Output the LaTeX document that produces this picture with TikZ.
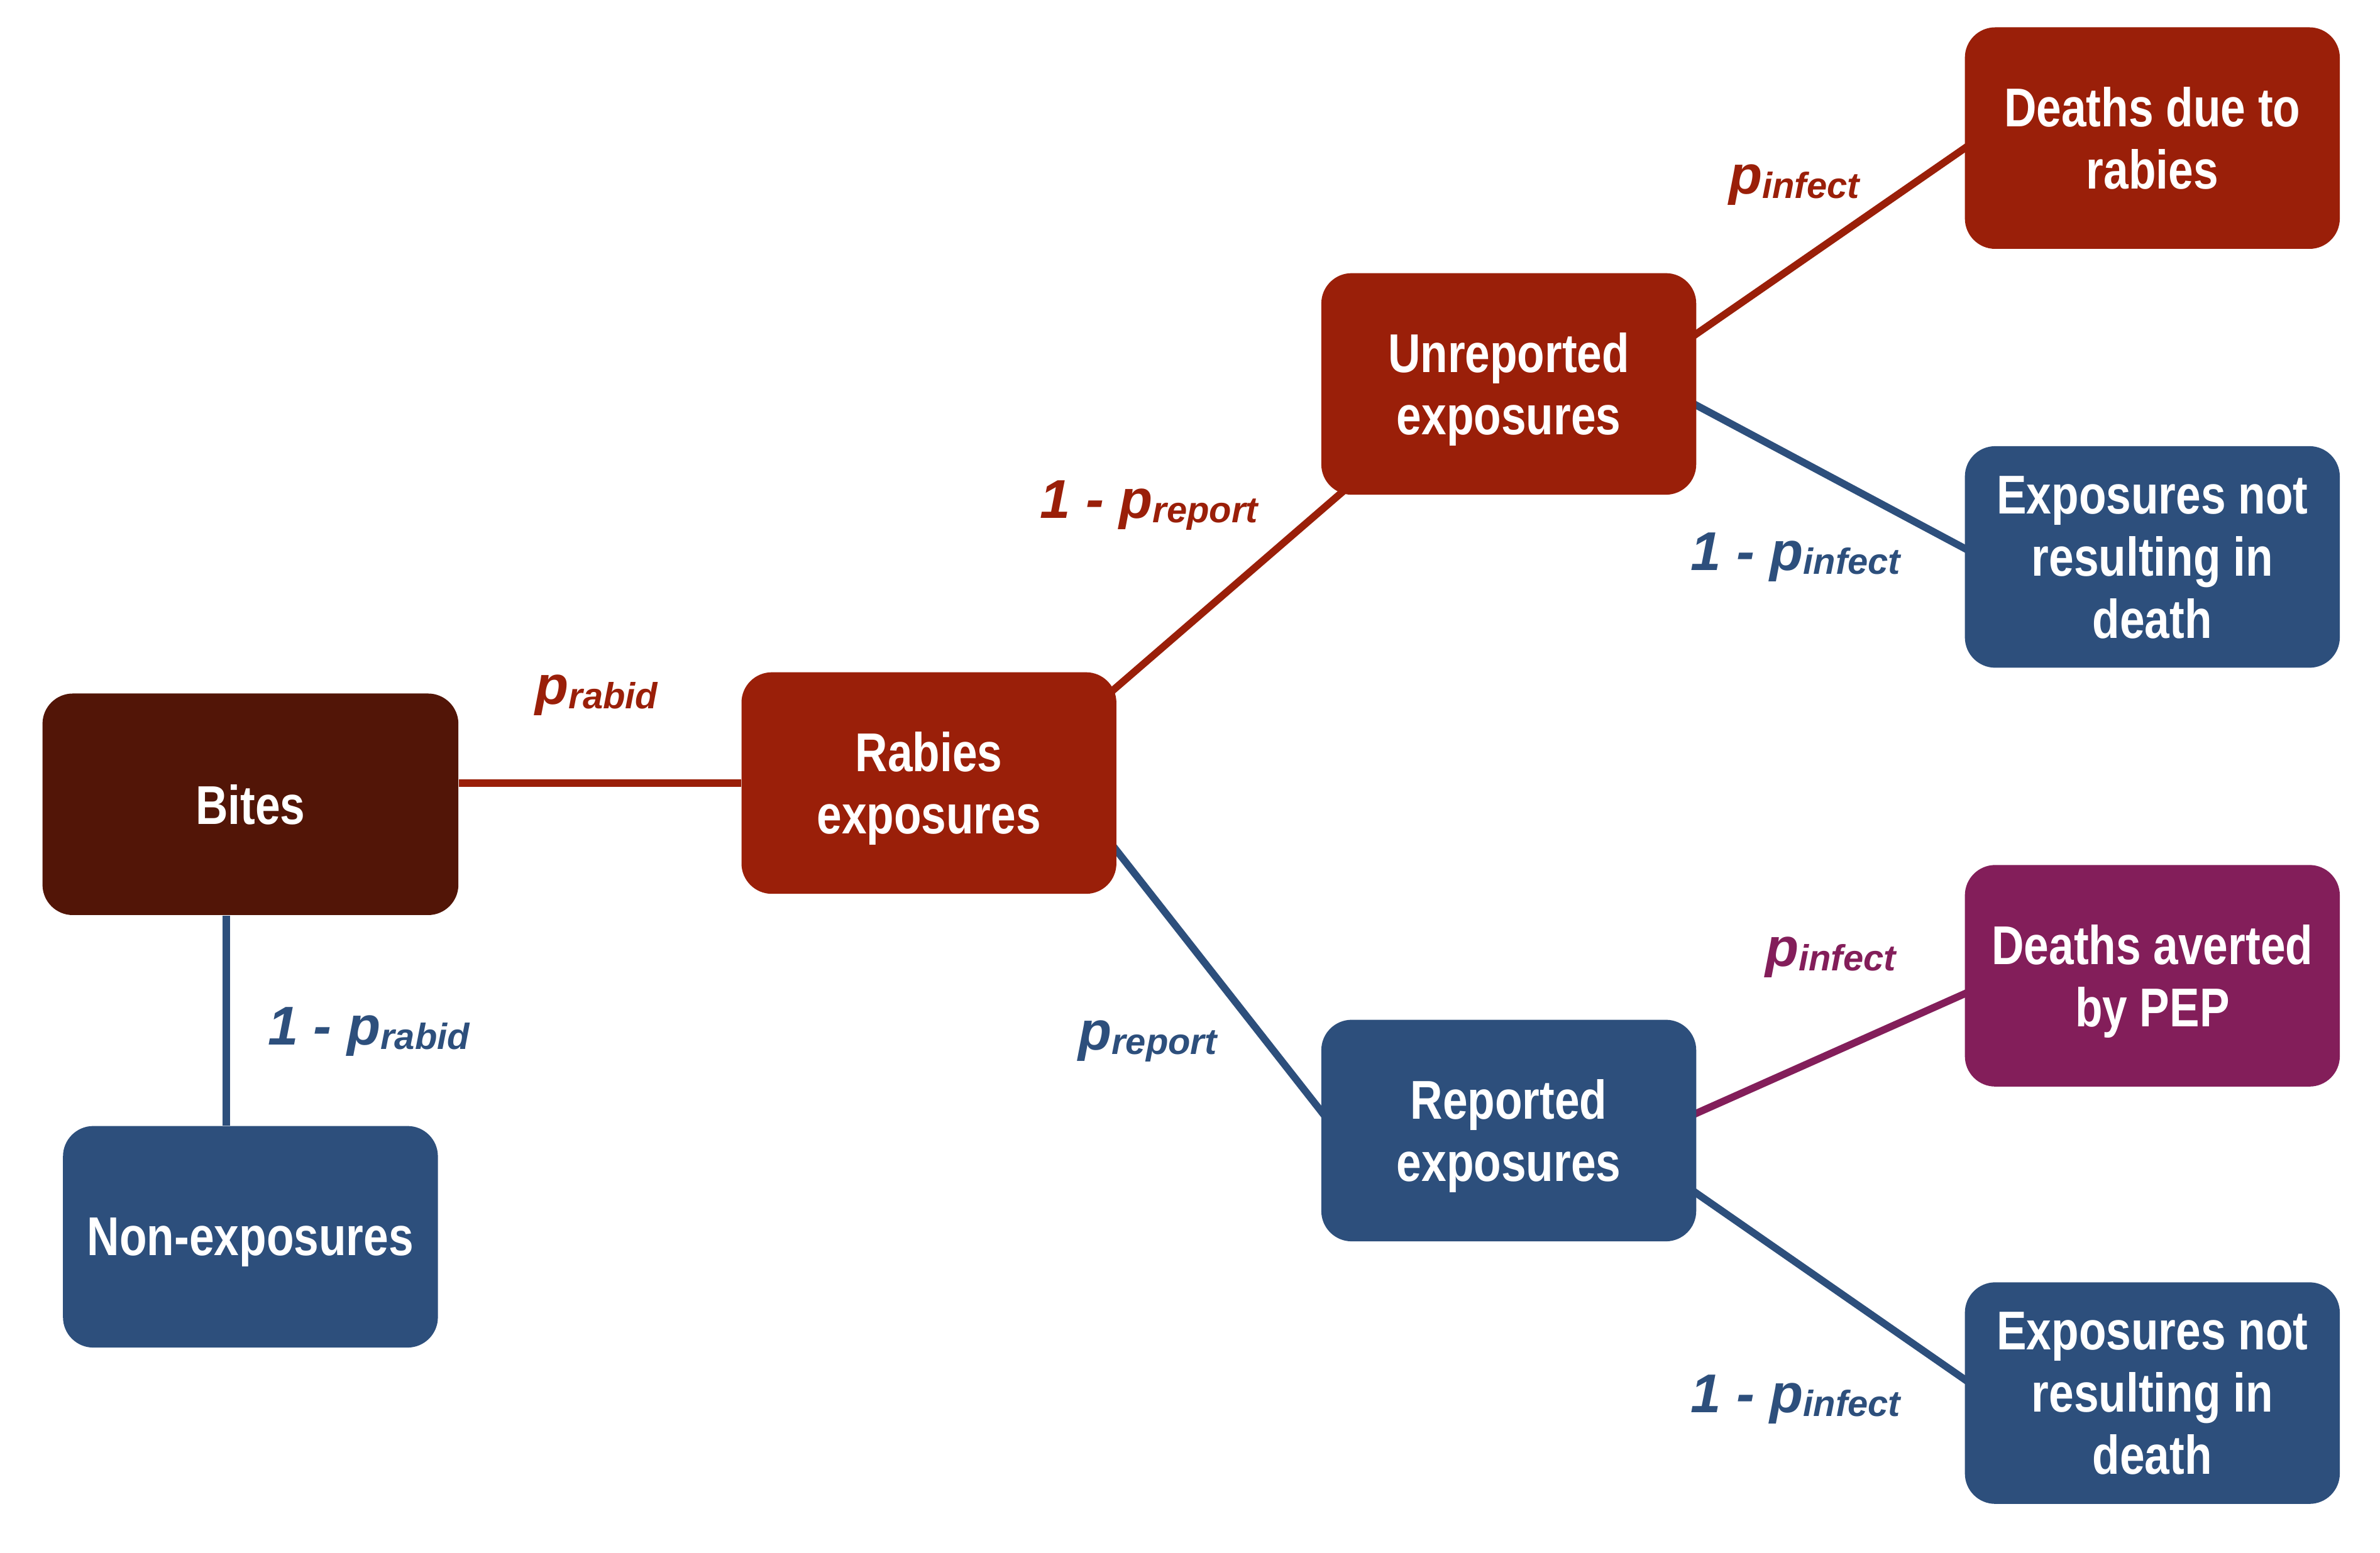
\documentclass[tikz,border=0pt]{standalone}
\usepackage{fontspec}
\setmainfont{Liberation Sans}
\newfontfamily\boxfont[FakeStretch=0.82]{Liberation Sans}
\newfontfamily\labfont{Liberation Sans}
\usetikzlibrary{calc,backgrounds}
\definecolor{bitebrown}{HTML}{521507}
\definecolor{rabred}{HTML}{9A1F09}
\definecolor{repblue}{HTML}{2D4F7C}
\definecolor{pepviolet}{HTML}{831E5A}
\newcommand{\plab}[2]{{\fontsize{18}{20}\selectfont #1p}\raisebox{-1.4pt}{\fontsize{12}{14}\selectfont #2}}
\tikzset{
  boxnode/.style={rectangle, rounded corners=10pt, minimum width=123.5pt, minimum height=73pt,
    text=white, align=center, inner sep=0pt, text depth=0pt,
    font=\boxfont\bfseries\fontsize{18}{20.5}\selectfont},
  link/.style={line width=2.4pt},
  problab/.style={inner sep=0pt, font=\labfont\bfseries\itshape}
}
\begin{document}
\begin{tikzpicture}[x=0.5pt,y=-0.5pt]
\path[use as bounding box] (0,0) rectangle (1568,1023);

\node[boxnode, fill=bitebrown, minimum width=137pt] (bites) at (165,530) {Bites};
\node[boxnode, fill=repblue] (nonexp) at (165,815) {Non-exposures};
\node[boxnode, fill=rabred] (rabexp) at (612,516) {Rabies\\exposures};
\node[boxnode, fill=rabred] (unrep) at (994,253) {Unreported\\exposures};
\node[boxnode, fill=repblue] (rep) at (994,745) {Reported\\exposures};
\node[boxnode, fill=rabred] (deaths) at (1418,91) {Deaths due to\\rabies};
\node[boxnode, fill=repblue] (exptop) at (1418,367) {Exposures not\\resulting in\\death};
\node[boxnode, fill=pepviolet] (averted) at (1418,643) {Deaths averted\\by PEP};
\node[boxnode, fill=repblue] (expbot) at (1418,918) {Exposures not\\resulting in\\death};

\begin{scope}[on background layer]
\draw[link, rabred] (bites.east |- rabexp.west) -- (rabexp.west);
\draw[link, repblue] ([xshift=-8pt]bites.south) -- ([xshift=-8pt]bites.south |- nonexp.north);
\draw[link, rabred] ($(rabexp.center)+(113,-54)$) -- ($(unrep.center)+(-99,62)$);
\draw[link, repblue] ($(rabexp.center)+(117,36)$) -- ($(rep.center)+(-116,-3)$);
\draw[link, rabred] ($(unrep.center)+(115,-27)$) -- ($(deaths.center)+(-114,0)$);
\draw[link, repblue] ($(unrep.center)+(116,10)$) -- ($(exptop.center)+(-115,-1)$);
\draw[link, pepviolet] ($(rep.center)+(116,-8)$) -- ($(averted.center)+(-115,8)$);
\draw[link, repblue] ($(rep.center)+(116,36)$) -- ($(expbot.center)+(-115,-3)$);
\end{scope}

\node[problab, text=rabred] (lrabid) at (393,458) {\plab{}{rabid}};
\node[problab, text=repblue] (lnotrabid) at (243,680) {\plab{1 - }{rabid}};
\node[problab, text=rabred] (lnotreport) at (757,333) {\plab{1 - }{report}};
\node[problab, text=repblue] (lreport) at (756,686) {\plab{}{report}};
\node[problab, text=rabred] (linfect1) at (1182,122) {\plab{}{infect}};
\node[problab, text=repblue] (lnotinfect1) at (1183,367) {\plab{1 - }{infect}};
\node[problab, text=pepviolet] (linfect2) at (1206,631) {\plab{}{infect}};
\node[problab, text=repblue] (lnotinfect2) at (1183,922) {\plab{1 - }{infect}};
\end{tikzpicture}
\end{document}
